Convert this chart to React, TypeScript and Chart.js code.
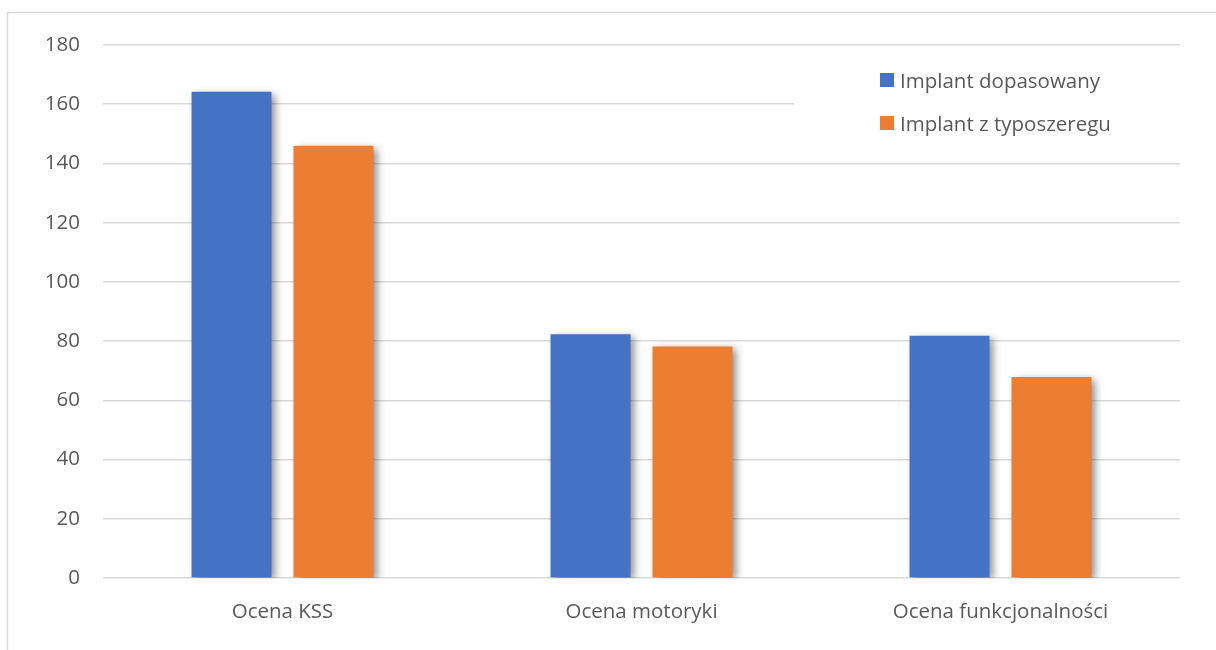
import React, { useEffect, useRef } from "react";
import { Chart, registerables } from "chart.js";

Chart.register(...registerables);

const categories = ["Ocena KSS", "Ocena motoryki", "Ocena funkcjonalności"];
const seriesNames = ["Implant dopasowany", "Implant z typoszeregu"];
const fittedValues = [164.2, 82.3, 81.8];
const catalogueValues = [146.0, 78.2, 67.9];
const seriesColors = ["#4472C4", "#ED7D31"];
const yTicks = [0, 20, 40, 60, 80, 100, 120, 140, 160, 180];

const FONT = "'Open Sans', 'DejaVu Sans', sans-serif";
const TEXT = "#595959";
const GRID = "#d9d9d9";

// soft drop shadow under the bars
const barShadow = {
  id: "barShadow",
  beforeDatasetsDraw(chart: any) {
    const ctx = chart.ctx;
    ctx.save();
    ctx.shadowColor = "rgba(0,0,0,0.45)";
    ctx.shadowBlur = 8;
    ctx.shadowOffsetX = 4;
    ctx.shadowOffsetY = 3;
  },
  afterDatasetsDraw(chart: any) {
    chart.ctx.restore();
  },
};

// outer frame of the chart
const frame = {
  id: "frame",
  beforeDraw(chart: any) {
    const ctx = chart.ctx;
    ctx.save();
    ctx.fillStyle = "#ffffff";
    ctx.fillRect(0, 0, chart.width, chart.height);
    ctx.strokeStyle = GRID;
    ctx.lineWidth = 1.5;
    ctx.beginPath();
    ctx.moveTo(7.5, chart.height + 5);
    ctx.lineTo(7.5, 12.5);
    ctx.lineTo(chart.width + 5, 12.5);
    ctx.stroke();
    ctx.restore();
  },
};

// legend placed inside the plot, upper right, on a white panel
const insideLegend = {
  id: "insideLegend",
  afterDatasetsDraw(chart: any) {
    const ctx = chart.ctx;
    ctx.save();
    ctx.fillStyle = "#ffffff";
    ctx.fillRect(794, 52, chart.width - 794, 100);
    ctx.font = `20.5px ${FONT}`;
    ctx.textBaseline = "alphabetic";
    ctx.textAlign = "left";
    chart.data.datasets.forEach((ds: any, i: number) => {
      const top = 73 + i * 43;
      ctx.fillStyle = ds.backgroundColor;
      ctx.fillRect(880, top, 14, 14);
      ctx.fillStyle = TEXT;
      ctx.fillText(ds.label, 900, top + 14.5);
    });
    ctx.restore();
  },
};

export default function App() {
  const ref = useRef<HTMLCanvasElement>(null);

  useEffect(() => {
    if (!ref.current) return;
    const chart = new Chart(ref.current, {
      type: "bar",
      data: {
        labels: categories,
        datasets: [
          {
            label: seriesNames[0],
            data: fittedValues,
            backgroundColor: seriesColors[0],
            borderWidth: 0,
          },
          {
            label: seriesNames[1],
            data: catalogueValues,
            backgroundColor: seriesColors[1],
            borderWidth: 0,
          },
        ],
      },
      options: {
        responsive: false,
        animation: false,
        devicePixelRatio: 1,
        categoryPercentage: 0.568,
        barPercentage: 0.784,
        layout: { padding: { top: 45, right: 36, left: 0, bottom: 0 } },
        plugins: {
          legend: { display: false },
          tooltip: { enabled: false },
        },
        scales: {
          x: {
            grid: { display: false, drawTicks: false },
            border: { display: false },
            ticks: {
              color: TEXT,
              font: { family: FONT, size: 20.5 },
              padding: 22,
            },
            afterFit(scale: any) {
              scale.height = 72;
            },
          },
          y: {
            min: 0,
            max: 180,
            afterBuildTicks(scale: any) {
              scale.ticks = yTicks.map((v) => ({ value: v }));
            },
            grid: { color: GRID, lineWidth: 1.5, drawTicks: false },
            border: { display: false },
            ticks: {
              color: TEXT,
              font: { family: FONT, size: 20.5 },
              padding: 23,
            },
            afterFit(scale: any) {
              scale.width = 103;
            },
          },
        },
      },
      plugins: [frame, barShadow, insideLegend],
    });
    return () => chart.destroy();
  }, []);

  return (
    <div style={{ position: "absolute", left: 0, top: 0, width: 1216, height: 650, background: "#fff" }}>
      <canvas ref={ref} width={1216} height={650} style={{ display: "block" }} />
    </div>
  );
}
